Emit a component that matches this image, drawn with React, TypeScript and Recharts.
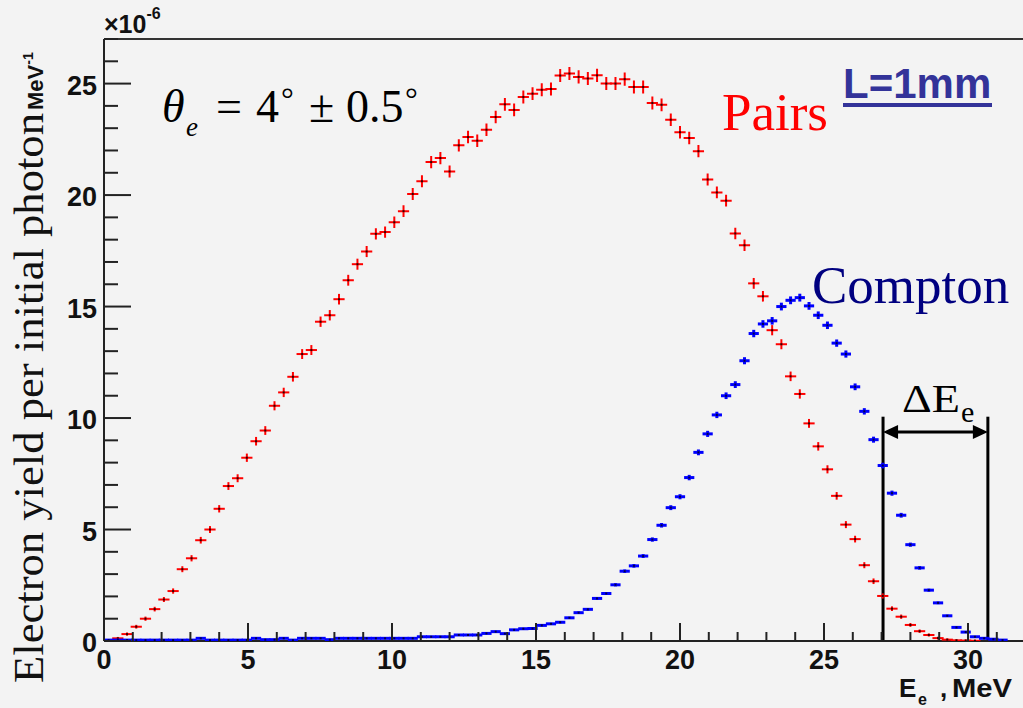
import React from "react";
import { ScatterChart, Scatter, XAxis, YAxis, ReferenceLine } from "recharts";

// histogram binning (MeV)
const BIN_WIDTH = 0.32;
const X_MAX = 32;
const Y_MAX = 27;

const X_LABELS = [0, 5, 10, 15, 20, 25, 30];
const Y_LABELS = [0, 5, 10, 15, 20, 25];
const X_TICKS = Array.from({ length: X_MAX + 1 }, (_, i) => i);
const Y_TICKS = Array.from({ length: Y_MAX + 1 }, (_, i) => i);

// electron yield per bin, units of 1e-6 per initial photon per MeV
const pairsYield = [
  0.03, 0.12, 0.31, 0.64, 1.0, 1.43, 1.86, 2.24, 3.22, 3.71,
  4.52, 5.0, 5.93, 6.95, 7.3, 8.22, 8.96, 9.44, 10.55, 11.15,
  11.85, 12.87, 13.05, 14.32, 14.61, 15.33, 16.18, 16.9, 17.47, 18.26,
  18.34, 18.78, 19.28, 20.05, 20.62, 21.48, 21.66, 21.06, 22.23, 22.6,
  22.44, 22.93, 23.5, 24.07, 23.82, 24.4, 24.55, 24.72, 24.76, 25.36,
  25.45, 25.3, 25.23, 25.37, 25.0, 25.0, 25.2, 24.85, 24.85, 24.13,
  24.05, 23.38, 22.82, 22.56, 21.97, 20.7, 20.12, 19.75, 18.28, 17.75,
  16.04, 15.46, 13.94, 13.31, 11.87, 11.08, 9.76, 8.73, 7.7, 6.51,
  5.22, 4.57, 3.4, 2.68, 2.02, 1.45, 1.09, 0.72, 0.44, 0.27,
  0.13, 0.06, 0.03, 0.02, 0.01,
];

const comptonYield = [
  0.04, 0.04, 0.04, 0.04, 0.04, 0.04, 0.04, 0.04, 0.04, 0.04,
  0.12, 0.04, 0.04, 0.04, 0.04, 0.04, 0.12, 0.06, 0.06, 0.12,
  0.04, 0.12, 0.12, 0.12, 0.06, 0.12, 0.12, 0.12, 0.12, 0.12,
  0.12, 0.12, 0.12, 0.12, 0.19, 0.19, 0.19, 0.19, 0.27, 0.27,
  0.27, 0.34, 0.42, 0.33, 0.5, 0.55, 0.56, 0.7, 0.77, 0.84,
  1.04, 1.27, 1.42, 1.91, 2.13, 2.52, 3.13, 3.37, 3.81, 4.55,
  5.19, 5.98, 6.47, 7.33, 8.46, 9.29, 10.14, 11.0, 11.5, 12.57,
  13.79, 14.22, 14.36, 15.0, 15.28, 15.4, 15.03, 14.61, 14.16, 13.36,
  12.87, 11.4, 10.3, 9.03, 7.87, 6.63, 5.64, 4.32, 3.28, 2.28,
  1.71, 1.13, 0.61, 0.4, 0.19, 0.12, 0.08, 0.04,
];

// acceptance window ΔE_e (MeV) and its marker heights
const DELTA_E_LOW = 27.05;
const DELTA_E_HIGH = 30.69;
const DELTA_E_TOP = 10.06;
const DELTA_E_ARROW = 9.37;

const toBins = (values: number[]) =>
  values.map((v, i) => ({ e: (i + 0.5) * BIN_WIDTH, v }));

const pairPoints = toBins(pairsYield);
const comptonPoints = toBins(comptonYield);

const CHART_W = 1040;
const CHART_H = 708;
const MARGIN = { top: 39, right: 14.4, bottom: 0, left: 0 };
const Y_AXIS_W = 104;
const X_AXIS_H = 67;
const PLOT_W = CHART_W - MARGIN.right - Y_AXIS_W;
const HALF_BIN_PX = (PLOT_W / X_MAX) * (BIN_WIDTH / 2);

const SANS = "'Liberation Sans', Arial, sans-serif";
const SERIF = "'Liberation Serif', 'Times New Roman', serif";
const AXIS_COLOR = "#222";

function PairMarker(props: any) {
  const { cx, cy, payload } = props;
  if (cx == null || cy == null) return null;
  const err = 1 + 1.1 * Math.sqrt(payload.v);
  return (
    <g>
      <line x1={cx - HALF_BIN_PX - 1} x2={cx + HALF_BIN_PX + 1} y1={cy} y2={cy} stroke="#ff0000" strokeWidth={2} />
      <line x1={cx} x2={cx} y1={cy - err} y2={cy + err} stroke="#ff0000" strokeWidth={2} />
      <rect x={cx - 1} y={cy - 1} width={2} height={2} fill="#000" opacity={0.8} />
    </g>
  );
}

function ComptonMarker(props: any) {
  const { cx, cy, payload } = props;
  if (cx == null || cy == null) return null;
  const err = Math.sqrt(payload.v);
  return (
    <g>
      <line x1={cx - HALF_BIN_PX - 0.5} x2={cx + HALF_BIN_PX + 0.5} y1={cy} y2={cy} stroke="#0000ff" strokeWidth={3} />
      <line x1={cx} x2={cx} y1={cy - err} y2={cy + err} stroke="#0000ff" strokeWidth={3} />
      <rect x={cx - 1} y={cy - 1} width={2} height={2} fill="#000" opacity={0.7} />
    </g>
  );
}

function XTick({ x, y, payload }: any) {
  const value = payload.value;
  const major = value % 5 === 0;
  return (
    <g>
      <line x1={x} x2={x} y1={y} y2={y - (major ? 18 : 9)} stroke={AXIS_COLOR} strokeWidth={2} />
      {X_LABELS.includes(value) && (
        <text x={x} y={y + 28} textAnchor="middle" fontFamily={SANS} fontWeight="bold" fontSize={27} fill="#111">
          {value}
        </text>
      )}
    </g>
  );
}

function YTick({ x, y, payload }: any) {
  const value = payload.value;
  const major = value % 5 === 0;
  return (
    <g>
      <line x1={x} x2={x + (major ? 27 : 14)} y1={y} y2={y} stroke={AXIS_COLOR} strokeWidth={2} />
      {Y_LABELS.includes(value) && (
        <text x={x - 7} y={y + 11} textAnchor="end" fontFamily={SANS} fontWeight="bold" fontSize={27} fill="#111">
          {value}
        </text>
      )}
    </g>
  );
}

function ArrowSpan(props: any) {
  const { x1, y1, x2, y2 } = props;
  const head = 15;
  const half = 7;
  return (
    <g>
      <line x1={x1 + head - 2} x2={x2 - head + 2} y1={y1} y2={y2} stroke="#000" strokeWidth={3} />
      <polygon points={`${x1},${y1} ${x1 + head},${y1 - half} ${x1 + head},${y1 + half}`} fill="#000" />
      <polygon points={`${x2},${y2} ${x2 - head},${y2 - half} ${x2 - head},${y2 + half}`} fill="#000" />
    </g>
  );
}

function Labels() {
  return (
    <svg width={1023} height={708} style={{ position: "absolute", left: 0, top: 0, pointerEvents: "none" }}>
      {/* exponent of the y axis */}
      <text x={104} y={33} fontFamily={SANS} fontWeight="bold" fontSize={25} fill="#111">
        ×10
        <tspan fontSize={16} dy={-14}>-6</tspan>
      </text>

      {/* y axis title */}
      <text
        transform="translate(43,683) rotate(-90)"
        fontFamily={SERIF}
        fontSize={42}
        fill="#111"
        textLength={570}
        lengthAdjust="spacingAndGlyphs"
      >
        Electron yield per initial photon
      </text>
      <text transform="translate(43,110) rotate(-90)" fontFamily={SANS} fontWeight="bold" fontSize={22} fill="#111">
        MeV
        <tspan fontSize={14} dy={-10}>-1</tspan>
      </text>

      {/* x axis title */}
      <text y={697} fontFamily={SANS} fontWeight="bold" fontSize={26} fill="#111">
        <tspan x={899}>E</tspan>
        <tspan x={918} dy={8} fontSize={16}>e</tspan>
        <tspan x={940} dy={-8}>,</tspan>
        <tspan x={952} textLength={60} lengthAdjust="spacingAndGlyphs">MeV</tspan>
      </text>

      {/* emission angle */}
      <text y={122} fontFamily={SERIF} fontSize={46} fill="#000">
        <tspan x={162} fontStyle="italic">θ</tspan>
        <tspan x={186} y={136} fontSize={27} fontStyle="italic">e</tspan>
        <tspan x={216} y={122}>=</tspan>
        <tspan x={256}>4</tspan>
        <tspan x={281} y={110} fontSize={32}>°</tspan>
        <tspan x={309} y={122}>±</tspan>
        <tspan x={346}>0.5</tspan>
        <tspan x={405} y={110} fontSize={32}>°</tspan>
      </text>

      <text x={722} y={130} fontFamily={SERIF} fontSize={53} fill="#ff0000">Pairs</text>

      <text x={843} y={98} fontFamily={SANS} fontWeight="bold" fontSize={42} fill="#333399">L=1mm</text>
      <rect x={843} y={103} width={149} height={4} fill="#333399" />

      <text x={812} y={303} fontFamily={SERIF} fontSize={53} fill="#000080">Compton</text>

      <text y={412} fontFamily={SERIF} fontSize={40} fill="#000">
        <tspan x={902} textLength={58} lengthAdjust="spacingAndGlyphs">ΔE</tspan>
        <tspan x={961} y={422} fontSize={30}>e</tspan>
      </text>
    </svg>
  );
}

export default function App() {
  return (
    <div
      style={{
        position: "absolute",
        left: 0,
        top: 0,
        width: 1023,
        height: 708,
        overflow: "hidden",
        background: "#f3f3f3",
      }}
    >
      <ScatterChart width={CHART_W} height={CHART_H} margin={MARGIN}>
        <XAxis
          type="number"
          dataKey="e"
          domain={[0, X_MAX]}
          ticks={X_TICKS}
          interval={0}
          allowDataOverflow
          height={X_AXIS_H}
          tickSize={0}
          tickMargin={0}
          tick={<XTick />}
          axisLine={{ stroke: AXIS_COLOR, strokeWidth: 2 }}
        />
        <YAxis
          type="number"
          dataKey="v"
          domain={[0, Y_MAX]}
          ticks={Y_TICKS}
          interval={0}
          allowDataOverflow
          width={Y_AXIS_W}
          tickSize={0}
          tickMargin={0}
          tick={<YTick />}
          axisLine={{ stroke: AXIS_COLOR, strokeWidth: 2 }}
        />
        <ReferenceLine y={Y_MAX} stroke="#333" strokeWidth={2} />
        <Scatter data={pairPoints} shape={<PairMarker />} isAnimationActive={false} />
        <Scatter data={comptonPoints} shape={<ComptonMarker />} isAnimationActive={false} />
        <ReferenceLine
          segment={[{ x: DELTA_E_LOW, y: 0 }, { x: DELTA_E_LOW, y: DELTA_E_TOP }]}
          stroke="#000"
          strokeWidth={3}
        />
        <ReferenceLine
          segment={[{ x: DELTA_E_HIGH, y: 0 }, { x: DELTA_E_HIGH, y: DELTA_E_TOP }]}
          stroke="#000"
          strokeWidth={3}
        />
        <ReferenceLine
          segment={[{ x: DELTA_E_LOW, y: DELTA_E_ARROW }, { x: DELTA_E_HIGH, y: DELTA_E_ARROW }]}
          shape={(p: any) => <ArrowSpan {...p} />}
        />
      </ScatterChart>
      <Labels />
    </div>
  );
}
